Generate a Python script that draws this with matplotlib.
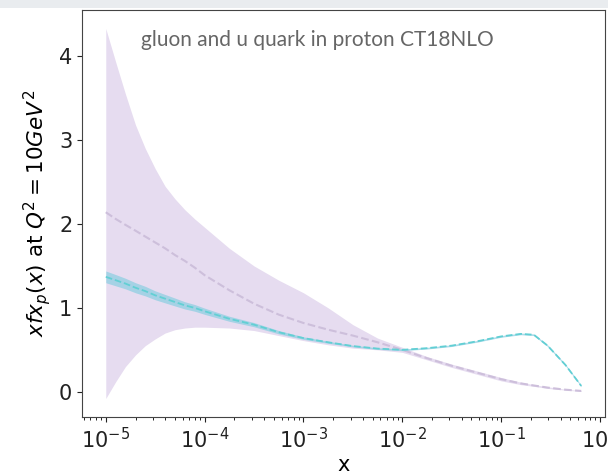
import matplotlib
matplotlib.use("Agg")
import matplotlib.pyplot as plt
from matplotlib.patches import Rectangle

# x grid
x_vals = [1e-5, 1.26e-5, 1.58e-5, 2.0e-5, 2.51e-5, 3.16e-5, 3.98e-5, 5.01e-5,
          6.31e-5, 7.94e-5, 1e-4, 1.78e-4, 3.16e-4, 5.62e-4,
          1e-3, 1.78e-3, 3.16e-3, 5.62e-3, 1e-2, 1.78e-2, 3.16e-2, 5.62e-2,
          0.1, 0.158, 0.214, 0.295, 0.447, 0.646]

gluon_central = [2.14, 2.06, 1.99, 1.92, 1.85, 1.78, 1.71, 1.63,
                 1.56, 1.48, 1.39, 1.21, 1.05, 0.92,
                 0.82, 0.74, 0.67, 0.59, 0.50, 0.40, 0.31, 0.23,
                 0.15, 0.10, 0.075, 0.05, 0.025, 0.01]
gluon_upper = [4.33, 3.93, 3.55, 3.18, 2.90, 2.66, 2.45, 2.30,
               2.17, 2.06, 1.96, 1.71, 1.50, 1.33,
               1.18, 1.00, 0.80, 0.64, 0.53, 0.42, 0.33, 0.25,
               0.17, 0.115, 0.085, 0.06, 0.03, 0.015]
gluon_lower = [-0.08, 0.12, 0.30, 0.44, 0.55, 0.63, 0.70, 0.74,
               0.76, 0.77, 0.77, 0.76, 0.73, 0.67,
               0.61, 0.56, 0.52, 0.50, 0.47, 0.38, 0.29, 0.21,
               0.13, 0.085, 0.065, 0.04, 0.02, 0.005]

u_central = [1.37, 1.33, 1.29, 1.24, 1.20, 1.15, 1.11, 1.07,
             1.03, 1.00, 0.96, 0.87, 0.80, 0.71,
             0.64, 0.59, 0.545, 0.515, 0.50, 0.52, 0.55, 0.60,
             0.66, 0.69, 0.68, 0.55, 0.32, 0.07]
u_err = [0.07, 0.067, 0.063, 0.06, 0.057, 0.053, 0.05, 0.047,
         0.043, 0.04, 0.037, 0.03, 0.025, 0.02,
         0.015, 0.012, 0.01, 0.01, 0.01, 0.01, 0.01, 0.01,
         0.01, 0.01, 0.01, 0.01, 0.01, 0.01]

title_text = "gluon and u quark in proton CT18NLO"

u_lo = [c - e for c, e in zip(u_central, u_err)]
u_hi = [c + e for c, e in zip(u_central, u_err)]

fig = plt.figure(figsize=(6.08, 4.74), dpi=100)
ax = fig.add_axes([82/608, 57/474, 523/608, 407/474])

ax.fill_between(x_vals, gluon_lower, gluon_upper, color='#e6dcf0', linewidth=0, zorder=1)
ax.plot(x_vals, gluon_central, '--', color='#cdbfdb', lw=1.5, zorder=2)
ax.fill_between(x_vals, u_lo, u_hi, color='#8fcfe2', alpha=0.75, linewidth=0, zorder=3)
ax.plot(x_vals, u_central, '--', color='#62cfd4', lw=1.3, zorder=4)

ax.set_xscale('log')
ax.set_yticks([0, 1, 2, 3, 4])
ax.tick_params(labelsize=15, colors='#222222')
for s in ax.spines.values():
    s.set_color('#444444')
ax.set_xlabel('x', fontsize=15, labelpad=2)
ax.set_ylabel(r'$xfx_p(x)$ at $Q^2 = 10GeV^2$', fontsize=15.5, labelpad=4)

ax.text(0.451, 0.926, title_text, transform=ax.transAxes, ha='center', va='center',
        fontsize=15, color='#666666', family=['Lato', 'DejaVu Sans'])

fig.patches.append(Rectangle((0, 1 - 8/474), 1, 8/474, transform=fig.transFigure,
                             facecolor='#e9ecef', edgecolor='none', zorder=0))

fig.savefig('out.png', dpi=100)
